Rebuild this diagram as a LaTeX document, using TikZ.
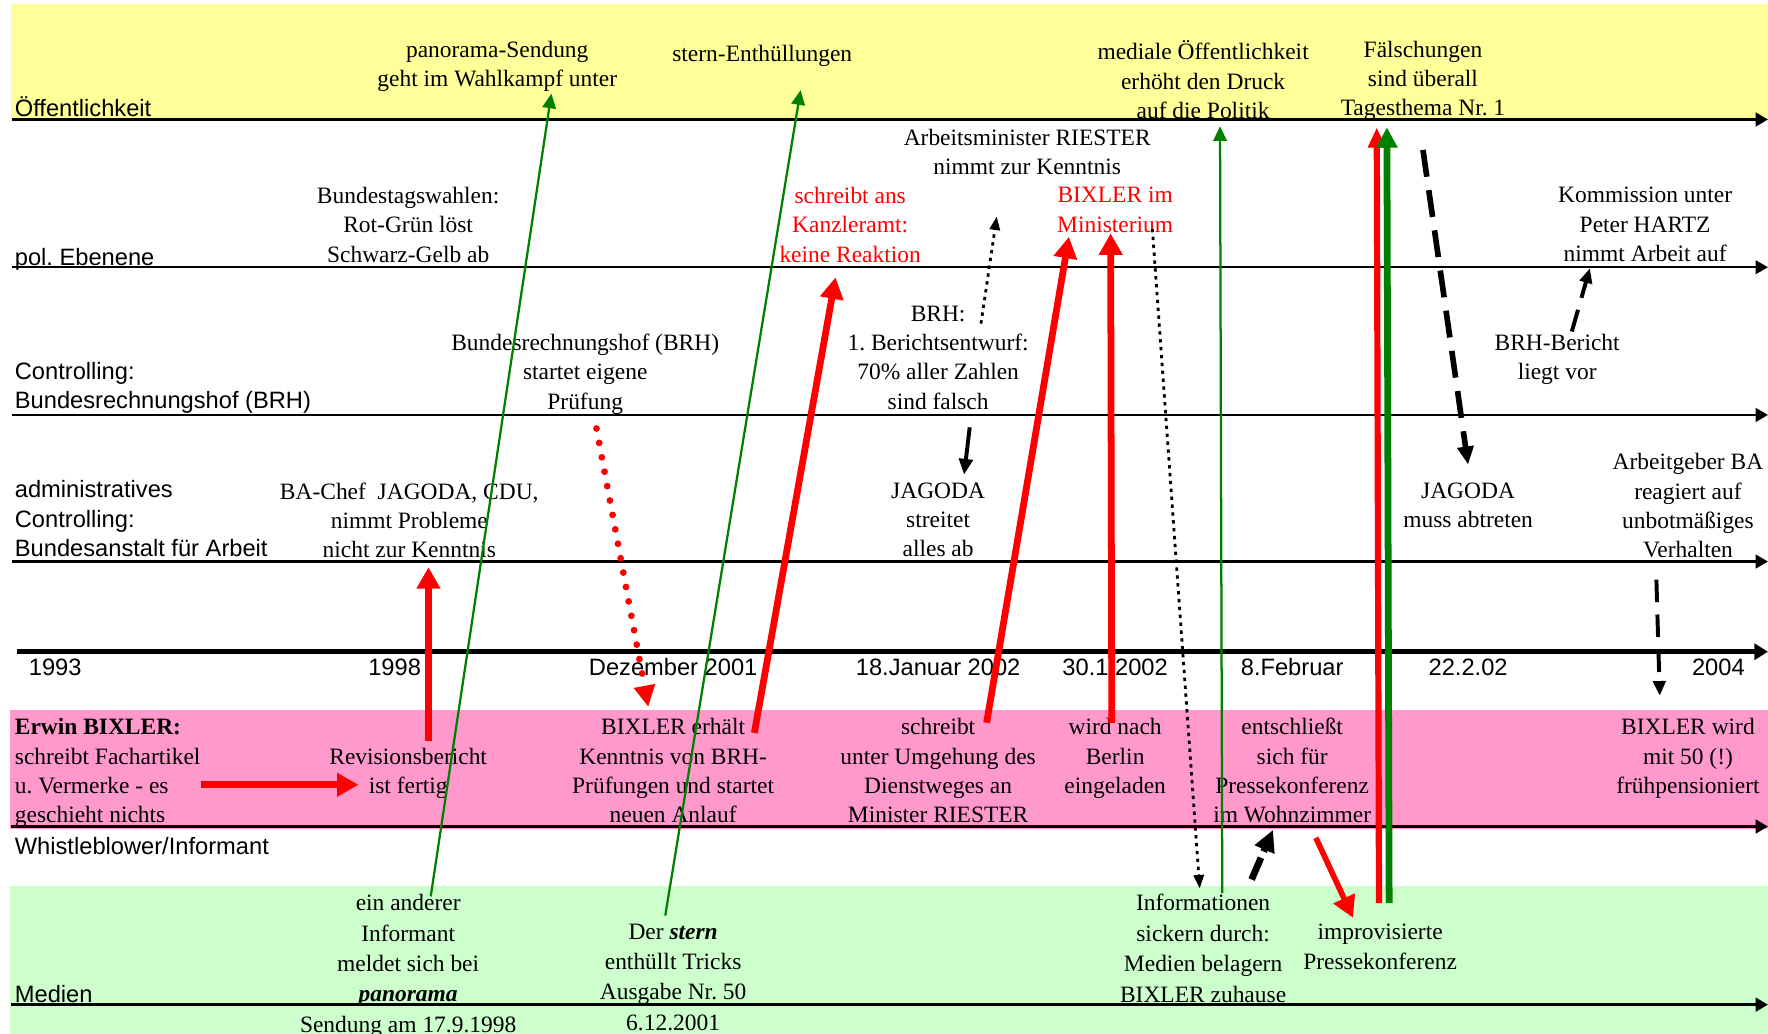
\documentclass[tikz,border=0pt]{standalone}
\usepackage{fontspec}
\setmainfont{Liberation Serif}
\newfontfamily\lanesans{Liberation Sans}
\usetikzlibrary{arrows.meta}
\frenchspacing
\definecolor{pubyellow}{HTML}{FFFF99}
\definecolor{bixpink}{HTML}{FF99CC}
\definecolor{medgreen}{HTML}{CCFFCC}
\definecolor{arrred}{HTML}{FF0000}
\definecolor{arrgreen}{HTML}{008000}
\tikzset{
  ev/.style={font=\fontsize{20.8}{26}\selectfont, align=center, inner sep=0pt, anchor=north, yshift=7pt, execute at begin node=\strut},
  evwide/.style={ev, font=\fontsize{20.8}{27}\selectfont},
  evred/.style={ev, text=arrred},
  evleft/.style={ev, align=left, anchor=north west},
  lanelabel/.style={font=\lanesans\fontsize{21}{26}\selectfont, align=left, inner sep=0pt, anchor=north west, yshift=9pt, execute at begin node=\strut},
  datelabel/.style={font=\lanesans\fontsize{21}{26}\selectfont, inner sep=0pt, anchor=north, yshift=10pt, execute at begin node=\strut},
  laneline/.style={draw=black, line width=#1, -{Triangle[width=12pt,length=11pt]}},
  redthick/.style={draw=arrred, line width=6pt, -{Triangle[width=20pt,length=19pt]}},
  redvert/.style={draw=arrred, line width=5.5pt, -{Triangle[width=15pt,length=18pt]}},
  greenvert/.style={draw=arrgreen, line width=6pt, -{Triangle[width=18pt,length=18pt]}},
  greenthin/.style={draw=arrgreen, line width=2pt, -{Triangle[width=12pt,length=13pt]}},
  reddots/.style={draw=arrred, line width=6pt, line cap=round, dash pattern=on 0pt off 13pt, -{Triangle[width=18pt,length=19pt]}},
  blackdot/.style={draw=black, line width=2.5pt, dash pattern=on 3pt off 4pt, -{Triangle[width=9pt,length=12pt]}},
  blackdash/.style={draw=black, line width=5pt, dash pattern=on 24pt off 12pt, -{Triangle[width=14pt,length=16pt]}},
  blackdashthin/.style={draw=black, line width=3.5pt, dash pattern=on 20pt off 11pt, -{Triangle[width=11pt,length=13pt]}},
  blackshort/.style={draw=black, line width=6pt, dash pattern=on 21pt off 6pt, -{Triangle[width=18pt,length=19pt]}},
  blacksolid/.style={draw=black, line width=3.5pt, -{Triangle[width=12pt,length=14pt]}},
}
\begin{document}
\begin{tikzpicture}[x=1pt,y=-1pt]
\useasboundingbox (0,0) rectangle (1568,917);
% bands
\fill[pubyellow] (10,3.5) rectangle (1568,106);
\fill[bixpink] (9,630) rectangle (1568,735);
\fill[medgreen] (9,786) rectangle (1568,917);

% lane lines
\coordinate (oeL) at (11,106);   \coordinate (oeR) at (1568,106);
\coordinate (poL) at (11,237);   \coordinate (poR) at (1568,237);
\coordinate (brL) at (11,368);   \coordinate (brR) at (1568,368);
\coordinate (baL) at (11,498);   \coordinate (baR) at (1568,498);
\coordinate (tiL) at (15,578);   \coordinate (tiR) at (1568,578);
\coordinate (wbL) at (10,733);   \coordinate (wbR) at (1568,733);
\coordinate (meL) at (10,891);   \coordinate (meR) at (1568,891);
\draw[laneline=3.2pt] (oeL) -- (oeR);
\draw[laneline=2pt] (poL) -- (poR);
\draw[laneline=2.5pt] (brL) -- (brR);
\draw[laneline=2.5pt] (baL) -- (baR);
\draw[draw=black, line width=4.5pt, -{Triangle[width=14pt,length=12pt]}] (tiL) -- (tiR);
\draw[laneline=3pt] (wbL) -- (wbR);
\draw[laneline=3pt] (meL) -- (meR);

% lane labels
\node[lanelabel] (lOe) at (13,94) {Öffentlichkeit};
\node[lanelabel] (lPo) at (13,226) {pol. Ebenene};
\node[lanelabel] (lBr) at (13,330) {Controlling:\\Bundesrechnungshof (BRH)};
\node[lanelabel] (lBa) at (13,435) {administratives\\Controlling:\\Bundesanstalt für Arbeit};
\node[lanelabel] (lWb) at (13,748) {Whistleblower/Informant};
\node[lanelabel] (lMe) at (13,880) {Medien};

% dates
\node[datelabel] (d1) at (49,591) {1993};
\node[datelabel] (d2) at (350,591) {1998};
\node[datelabel] (d3) at (597,591) {Dezember 2001};
\node[datelabel] (d4) at (832,591) {18.Januar 2002};
\node[datelabel] (d5) at (989,591) {30.1.2002};
\node[datelabel] (d6) at (1146,591) {8.Februar};
\node[datelabel] (d7) at (1302,591) {22.2.02};
\node[datelabel] (d8) at (1524,591) {2004};

% Oeffentlichkeit
\node[ev] (pano) at (441,43) {panorama-Sendung\\geht im Wahlkampf unter};
\node[ev] (sternE) at (676,43) {stern-Enthüllungen};
\node[ev] (medial) at (1067,43) {mediale Öffentlichkeit\\erhöht den Druck\\auf die Politik};
\node[ev] (faelsch) at (1262,43) {Fälschungen\\sind überall\\Tagesthema Nr. 1};
% pol. Ebene
\node[ev] (riester) at (911,121) {Arbeitsminister RIESTER\\nimmt zur Kenntnis};
\node[ev] (wahl) at (362,173) {Bundestagswahlen:\\Rot-Grün löst\\Schwarz-Gelb ab};
\node[evred] (kanzler) at (754,173) {schreibt ans\\Kanzleramt:\\keine Reaktion};
\node[evred] (minist) at (989,173) {BIXLER im\\Ministerium};
\node[ev] (hartz) at (1459,173) {Kommission unter\\Peter HARTZ\\nimmt Arbeit auf};
% BRH
\node[ev] (brhstart) at (519,303) {Bundesrechnungshof (BRH)\\startet eigene\\Prüfung};
\node[ev] (brhentw) at (832,278) {BRH:\\1. Berichtsentwurf:\\70\% aller Zahlen\\sind falsch};
\node[ev] (brhber) at (1381,303) {BRH-Bericht\\liegt vor};
% BA
\node[ev] (jag1) at (363,435) {BA-Chef~ JAGODA, CDU,\\nimmt Probleme\\nicht zur Kenntnis};
\node[ev] (jag2) at (832,435) {JAGODA\\streitet\\alles ab};
\node[ev] (jag3) at (1302,435) {JAGODA\\muss abtreten};
\node[ev] (arbg) at (1497,409) {Arbeitgeber BA\\reagiert auf\\unbotmäßiges\\Verhalten};
% Whistleblower
\node[evleft] (erwin) at (13,644) {\textbf{Erwin BIXLER:}\\schreibt Fachartikel\\u. Vermerke - es\\geschieht nichts};
\node[ev] (revis) at (362,670) {Revisionsbericht\\ist fertig};
\node[ev] (erhaelt) at (597,644) {BIXLER erhält\\Kenntnis von BRH-\\Prüfungen und startet\\neuen Anlauf};
\node[ev] (umgeh) at (832,644) {schreibt\\unter Umgehung des\\Dienstweges an\\Minister RIESTER};
\node[ev] (berlin) at (989,644) {wird nach\\Berlin\\eingeladen};
\node[ev] (entschl) at (1146,644) {entschließt\\sich für\\Pressekonferenz\\im Wohnzimmer};
\node[ev] (frueh) at (1497,644) {BIXLER wird\\mit 50 (!)\\frühpensioniert};
% Medien
\node[evwide] (informant) at (362,800) {ein anderer\\Informant\\meldet sich bei\\\textbf{\textit{panorama}}\\Sendung am 17.9.1998};
\node[evwide] (stern) at (597,826) {Der \textbf{\textit{stern}}\\enthüllt Tricks\\Ausgabe Nr. 50\\6.12.2001};
\node[evwide] (sickern) at (1067,800) {Informationen\\sickern durch:\\Medien belagern\\BIXLER zuhause};
\node[evwide] (improv) at (1224,826) {improvisierte\\Pressekonferenz};

% connector end points
\coordinate (g1s) at (382,795);  \coordinate (g1e) at (489,83);
\coordinate (g2s) at (590,812);  \coordinate (g2e) at (710,80);
\coordinate (r1s) at (380,657);  \coordinate (r1e) at (380,503);
\coordinate (r2s) at (178,696);  \coordinate (r2e) at (318,696);
\coordinate (rds) at (529,380);  \coordinate (rde) at (575,627);
\coordinate (r3s) at (669,650);  \coordinate (r3e) at (741,246);
\coordinate (r4s) at (875,641);  \coordinate (r4e) at (948,210);
\coordinate (r5s) at (986,641);  \coordinate (r5e) at (985,207);
\coordinate (k1s) at (870,287);  \coordinate (k1e) at (884,192);
\coordinate (k2s) at (1022,203); \coordinate (k2e) at (1064,788);
\coordinate (g3s) at (1084,792); \coordinate (g3e) at (1082,112);
\coordinate (k3s) at (1110,780); \coordinate (k3e) at (1129,736);
\coordinate (r6s) at (1167,743); \coordinate (r6e) at (1200,814);
\coordinate (r7s) at (1223,801); \coordinate (r7e) at (1221,113);
\coordinate (g4s) at (1232,801); \coordinate (g4e) at (1230,113);
\coordinate (k4s) at (1262,133); \coordinate (k4e) at (1302,412);
\coordinate (k5s) at (1394,294); \coordinate (k5e) at (1410,238);
\coordinate (k6s) at (1469,514); \coordinate (k6e) at (1472,617);
\coordinate (k7s) at (860,379);  \coordinate (k7e) at (855,421);

% connectors
\draw[greenthin] (g1s) -- (g1e);
\draw[greenthin] (g2s) -- (g2e);
\draw[redthick] (r1s) -- (r1e);
\draw[redthick] (r2s) -- (r2e);
\draw[reddots] (rds) -- (rde);
\draw[redthick] (r3s) -- (r3e);
\draw[redthick] (r4s) -- (r4e);
\draw[redthick] (r5s) -- (r5e);
\draw[blackdot] (k1s) -- (k1e);
\draw[blackdot] (k2s) -- (k2e);
\draw[greenthin] (g3s) -- (g3e);
\draw[blackshort] (k3s) -- (k3e);
\draw[redthick, line width=5pt] (r6s) -- (r6e);
\draw[redvert] (r7s) -- (r7e);
\draw[greenvert] (g4s) -- (g4e);
\draw[blackdash] (k4s) -- (k4e);
\draw[blackdashthin] (k5s) -- (k5e);
\draw[blackdashthin] (k6s) -- (k6e);
\draw[blacksolid] (k7s) -- (k7e);
\end{tikzpicture}
\end{document}
